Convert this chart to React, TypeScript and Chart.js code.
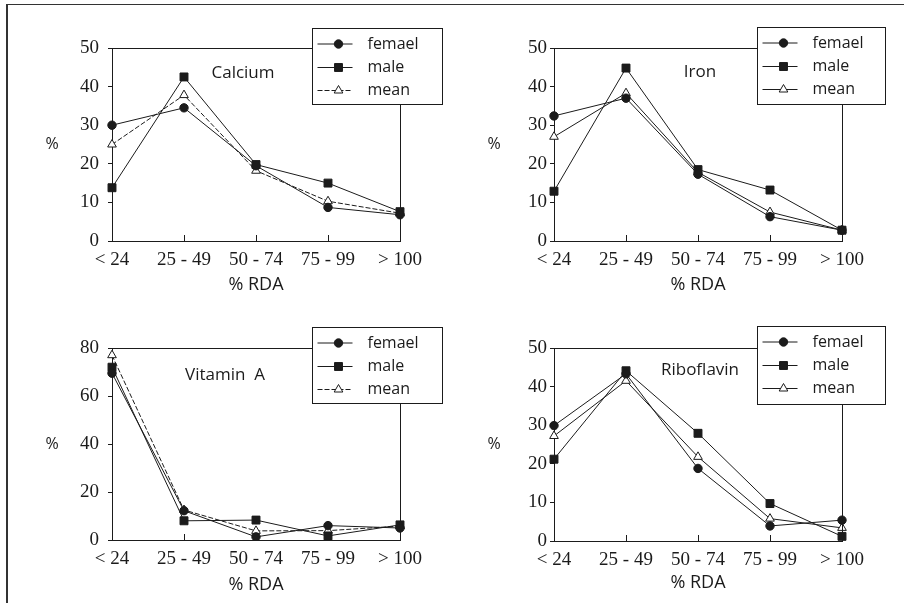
import React, { useEffect, useRef } from 'react';
import { Chart, registerables } from 'chart.js';

Chart.register(...registerables);

// ---------- data ----------
const categories = ['< 24', '25 - 49', '50 - 74', '75 - 99', '> 100'];
const seriesNames = ['femael', 'male', 'mean'];
const xTitle = '% RDA';
const yTitle = '%';

const calciumFemael = [30, 34.5, 19.5, 8.7, 6.8];
const calciumMale = [13.8, 42.5, 19.8, 15, 7.6];
const calciumMean = [25, 37.8, 18.2, 10.3, 7.2];

const ironFemael = [32.4, 37, 17.3, 6.3, 2.8];
const ironMale = [12.9, 44.8, 18.5, 13.2, 2.8];
const ironMean = [27, 38.3, 17.8, 7.5, 2.8];

const vitaminAFemael = [69.5, 12.2, 1.3, 6, 5];
const vitaminAMale = [72, 8, 8.3, 1.7, 6.3];
const vitaminAMean = [77, 12.5, 3.8, 3.9, 5.8];

const riboflavinFemael = [29.9, 43.3, 18.8, 3.9, 5.4];
const riboflavinMale = [21.2, 44.1, 27.9, 9.7, 1.2];
const riboflavinMean = [27.2, 41.5, 21.8, 5.8, 3.4];

const yMax50 = 50;
const yStep50 = 10;
const yMax80 = 80;
const yStep80 = 20;

const INK = '#1b1b1b';
const SANS = '"Open Sans", "DejaVu Sans", sans-serif';
const SERIF = '"Liberation Serif", "DejaVu Serif", serif';

type PanelCfg = {
  title: string;
  femael: number[];
  male: number[];
  mean: number[];
  yMax: number;
  yStep: number;
  meanDash: number[];
  left: number;
  top: number;
  width: number;
  height: number;
  yWidth: number;
  yPad: number;
  xHeight: number;
  xTitlePad: number;
  padTop: number;
  padRight: number;
  titleDx: number;
  titleDy: number;
  legDx: number;
  legDy: number;
  legW: number;
  legH: number;
};

const panels: PanelCfg[] = [
  {
    title: 'Calcium', femael: calciumFemael, male: calciumMale, mean: calciumMean,
    yMax: yMax50, yStep: yStep50, meanDash: [5, 2],
    left: 0, top: 0, width: 452, height: 300,
    yWidth: 112, yPad: 9, xHeight: 59, xTitlePad: 4, padTop: 48, padRight: 52,
    titleDx: 131, titleDy: 25, legDx: -88, legDy: -20, legW: 130, legH: 76,
  },
  {
    title: 'Iron', femael: ironFemael, male: ironMale, mean: ironMean,
    yMax: yMax50, yStep: yStep50, meanDash: [],
    left: 452, top: 0, width: 452, height: 300,
    yWidth: 102, yPad: 3, xHeight: 59, xTitlePad: 4, padTop: 48, padRight: 62,
    titleDx: 146, titleDy: 24, legDx: -85, legDy: -21, legW: 128, legH: 77,
  },
  {
    title: 'Vitamin  A', femael: vitaminAFemael, male: vitaminAMale, mean: vitaminAMean,
    yMax: yMax80, yStep: yStep80, meanDash: [5, 2],
    left: 0, top: 300, width: 452, height: 303,
    yWidth: 112, yPad: 9, xHeight: 63, xTitlePad: 7, padTop: 48, padRight: 52,
    titleDx: 113, titleDy: 27, legDx: -88, legDy: -21, legW: 130, legH: 76,
  },
  {
    title: 'Riboflavin', femael: riboflavinFemael, male: riboflavinMale, mean: riboflavinMean,
    yMax: yMax50, yStep: yStep50, meanDash: [],
    left: 452, top: 300, width: 452, height: 303,
    yWidth: 102, yPad: 3, xHeight: 62, xTitlePad: 9, padTop: 48, padRight: 62,
    titleDx: 146, titleDy: 22, legDx: -85, legDy: -22, legW: 128, legH: 78,
  },
];

function drawMarker(ctx: CanvasRenderingContext2D, style: string, x: number, y: number, r: number, fill: string) {
  ctx.save();
  ctx.setLineDash([]);
  ctx.lineWidth = 1;
  ctx.strokeStyle = INK;
  ctx.fillStyle = fill;
  ctx.beginPath();
  if (style === 'circle') {
    ctx.arc(x, y, r, 0, Math.PI * 2);
  } else if (style === 'rect') {
    const s = r * Math.SQRT1_2;
    ctx.rect(x - s, y - s, 2 * s, 2 * s);
  } else {
    for (let k = 0; k < 3; k++) {
      const a = -Math.PI / 2 + (k * 2 * Math.PI) / 3;
      const px = x + Math.cos(a) * r;
      const py = y + Math.sin(a) * r;
      if (k === 0) ctx.moveTo(px, py);
      else ctx.lineTo(px, py);
    }
    ctx.closePath();
  }
  ctx.fill();
  ctx.stroke();
  ctx.restore();
}

const decoPlugin = {
  id: 'panelDeco',
  afterDraw(chart: any, _args: any, opts: any) {
    const ctx: CanvasRenderingContext2D = chart.ctx;
    const ca = chart.chartArea;
    const cfg: PanelCfg = opts.cfg;
    ctx.save();
    // plot frame (top & right)
    ctx.strokeStyle = INK;
    ctx.lineWidth = 1;
    ctx.beginPath();
    ctx.moveTo(ca.left, Math.round(ca.top) + 0.5);
    ctx.lineTo(ca.right, Math.round(ca.top) + 0.5);
    ctx.moveTo(Math.round(ca.right) + 0.5, ca.top);
    ctx.lineTo(Math.round(ca.right) + 0.5, ca.bottom);
    ctx.stroke();
    // inward x tick marks
    const xs = chart.scales.x;
    ctx.beginPath();
    for (let i = 0; i < xs.ticks.length; i++) {
      const px = Math.round(xs.getPixelForTick(i)) + 0.5;
      ctx.moveTo(px, ca.bottom);
      ctx.lineTo(px, ca.bottom - 6);
    }
    ctx.stroke();
    // y axis title (unrotated)
    ctx.fillStyle = INK;
    ctx.font = `16px ${SANS}`;
    ctx.textAlign = 'center';
    ctx.textBaseline = 'middle';
    ctx.fillText(yTitle, ca.left - 60, (ca.top + ca.bottom) / 2);
    // panel title
    ctx.font = `17px ${SANS}`;
    ctx.fillText(cfg.title, ca.left + cfg.titleDx, ca.top + cfg.titleDy);
    // legend box
    const bx = Math.round(ca.right + cfg.legDx) + 0.5;
    const by = Math.round(ca.top + cfg.legDy) + 0.5;
    ctx.fillStyle = '#ffffff';
    ctx.fillRect(bx, by, cfg.legW, cfg.legH);
    ctx.strokeStyle = INK;
    ctx.lineWidth = 1;
    ctx.strokeRect(bx, by, cfg.legW, cfg.legH);
    const rowOffsets = [15.5, 39, 62];
    chart.data.datasets.forEach((ds: any, i: number) => {
      const ry = by + rowOffsets[i];
      ctx.save();
      ctx.strokeStyle = INK;
      ctx.lineWidth = 1;
      ctx.setLineDash(ds.borderDash || []);
      ctx.beginPath();
      ctx.moveTo(bx + 5, ry);
      ctx.lineTo(bx + 40, ry);
      ctx.stroke();
      ctx.restore();
      drawMarker(ctx, ds.pointStyle, bx + 26, ry, ds.pointRadius, ds.pointBackgroundColor);
      ctx.fillStyle = INK;
      ctx.font = `16px ${SANS}`;
      ctx.textAlign = 'left';
      ctx.textBaseline = 'middle';
      ctx.fillText(ds.label, bx + 55, ry);
    });
    ctx.restore();
  },
};

function Panel({ cfg }: { cfg: PanelCfg }) {
  const ref = useRef<HTMLCanvasElement>(null);
  useEffect(() => {
    if (!ref.current) return;
    const common = {
      borderColor: INK,
      borderWidth: 1,
      pointBorderColor: INK,
      pointBorderWidth: 1,
      tension: 0,
      fill: false,
    };
    const chart = new Chart(ref.current, {
      type: 'line',
      data: {
        labels: categories,
        datasets: [
          { ...common, label: seriesNames[0], data: cfg.femael, pointStyle: 'circle', pointRadius: 4.2, pointBackgroundColor: INK, backgroundColor: INK },
          { ...common, label: seriesNames[1], data: cfg.male, pointStyle: 'rect', pointRadius: 5.6, pointBackgroundColor: INK, backgroundColor: INK },
          { ...common, label: seriesNames[2], data: cfg.mean, pointStyle: 'triangle', pointRadius: 5, pointBackgroundColor: '#ffffff', backgroundColor: '#ffffff', borderDash: cfg.meanDash },
        ],
      } as any,
      options: {
        animation: false,
        responsive: false,
        maintainAspectRatio: false,
        layout: { padding: { left: 0, right: cfg.padRight, top: cfg.padTop, bottom: 0 } },
        plugins: {
          legend: { display: false },
          tooltip: { enabled: false },
          panelDeco: { cfg },
        } as any,
        scales: {
          x: {
            type: 'category',
            offset: false,
            grid: { display: true, drawOnChartArea: false, drawTicks: false },
            border: { display: true, color: INK, width: 1 },
            ticks: { padding: 8, color: INK, font: { family: SERIF, size: 19 }, maxRotation: 0, autoSkip: false },
            title: { display: true, text: xTitle, color: INK, font: { family: SANS, size: 18 }, padding: { top: 0, bottom: cfg.xTitlePad } },
            afterFit: (s: any) => { s.height = cfg.xHeight; },
          },
          y: {
            min: 0,
            max: cfg.yMax,
            grid: { display: true, drawOnChartArea: false, drawTicks: true, tickLength: 4, color: INK },
            border: { display: true, color: INK, width: 1 },
            ticks: { stepSize: cfg.yStep, padding: cfg.yPad, color: INK, font: { family: SERIF, size: 19 } },
            afterFit: (s: any) => { s.width = cfg.yWidth; },
          },
        } as any,
      },
      plugins: [decoPlugin as any],
    });
    return () => chart.destroy();
  }, [cfg]);
  return (
    <canvas
      ref={ref}
      width={cfg.width}
      height={cfg.height}
      style={{ position: 'absolute', left: cfg.left, top: cfg.top, width: cfg.width, height: cfg.height }}
    />
  );
}

export default function App() {
  return (
    <div style={{ position: 'fixed', left: 0, top: 0, width: 904, height: 603, background: '#ffffff', overflow: 'hidden' }}>
      <div style={{ position: 'absolute', left: 6, top: 4, width: 898, height: 599, borderTop: '1px solid #333', borderLeft: '2px solid #333', boxSizing: 'border-box' }} />
      {panels.map((p) => (
        <Panel key={p.title} cfg={p} />
      ))}
    </div>
  );
}
